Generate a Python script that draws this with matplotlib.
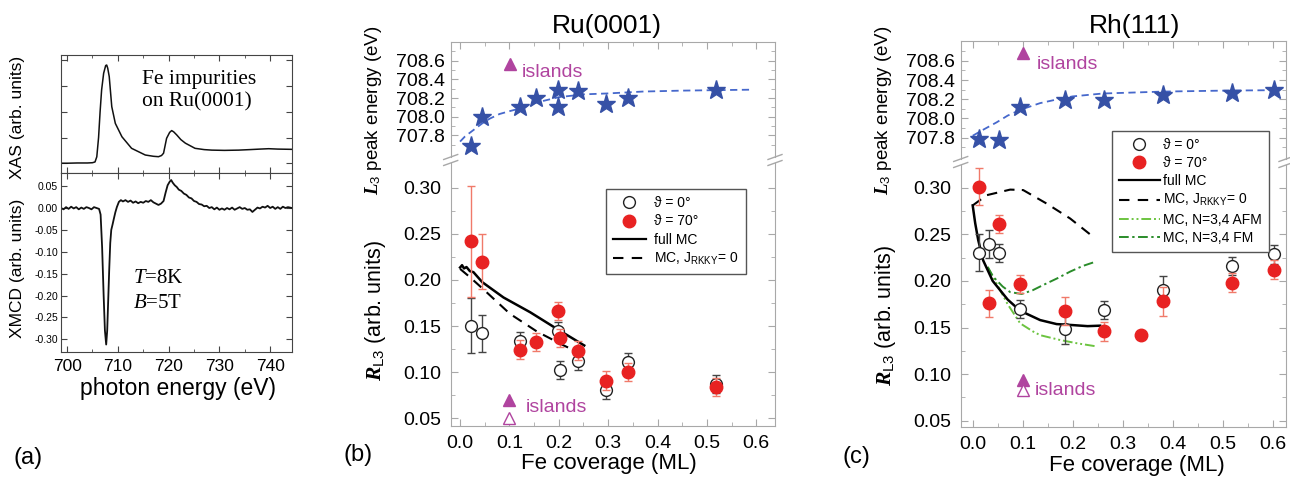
import matplotlib
matplotlib.use('Agg')
import matplotlib.pyplot as plt
from matplotlib.lines import Line2D
from matplotlib.ticker import FormatStrFormatter

# ---- panel (a): spectra ----
xas_e = [698.8, 700.0, 702.0, 704.0, 705.0, 705.5, 705.85, 706.2, 706.5, 706.8, 707.2, 707.6,
         707.8, 708.0, 708.3, 708.8, 709.5, 710.8, 712.7, 715.4, 717.0, 718.0, 718.6, 719.0,
         719.6, 720.2, 720.6, 721.0, 721.6, 722.4, 723.3, 725.2, 727.0, 728.5, 731.0, 733.8,
         736.0, 738.0, 739.7, 741.5, 744.3]
xas_v = [0.0, 0.0, 0.01, 0.01, 0.02, 0.05, 0.25, 1.0, 2.0, 2.85, 3.5, 3.8,
         3.82, 3.7, 3.37, 2.2, 1.55, 1.03, 0.58, 0.32, 0.27, 0.254, 0.3, 0.39,
         0.97, 1.2, 1.27, 1.22, 1.1, 0.92, 0.78, 0.58, 0.53, 0.51, 0.5, 0.51,
         0.53, 0.55, 0.565, 0.55, 0.54]

xmcd_e = [698.8, 699.3, 699.8, 700.3, 700.8, 701.3, 701.8, 702.3, 702.8, 703.3, 703.8, 704.3,
          704.8, 705.3, 705.8, 706.3, 706.6, 706.9, 707.2, 707.45, 707.7, 707.9, 708.1, 708.3,
          708.5, 708.7, 708.95, 709.2, 709.5, 709.8, 710.2, 710.6, 711.0, 711.5, 712.0, 712.5,
          713.0, 713.5, 714.0, 714.5, 715.0, 715.5, 716.0, 716.5, 717.0, 717.5, 718.0, 718.5,
          719.0, 719.4, 719.8, 720.2, 720.5, 720.8, 721.2, 721.6, 722.0, 722.5, 723.0, 723.5,
          724.0, 724.5, 725.0, 725.5, 726.0, 726.5, 727.0, 727.5, 728.0, 728.5, 729.0, 729.5,
          730.0, 730.5, 731.0, 731.5, 732.0, 732.5, 733.0, 733.5, 734.0, 734.5, 735.0, 735.5,
          736.0, 736.5, 737.0, 737.5, 738.0, 738.5, 739.0, 739.5, 740.0, 740.5, 741.0, 741.5,
          742.0, 742.5, 743.0, 743.5, 744.3]
xmcd_v = [0.000, -0.003, 0.002, -0.002, 0.003, -0.001, 0.002, -0.003, 0.001, -0.002, 0.002, 0.000,
          -0.003, 0.002, 0.000, -0.002, -0.015, -0.09, -0.20, -0.28, -0.312, -0.28, -0.21, -0.14,
          -0.08, -0.05, -0.038, -0.025, -0.01, 0.002, 0.014, 0.018, 0.015, 0.018, 0.014, 0.017,
          0.012, 0.015, 0.011, 0.014, 0.012, 0.016, 0.014, 0.018, 0.013, 0.010, 0.007, 0.010,
          0.016, 0.035, 0.052, 0.060, 0.064, 0.058, 0.052, 0.048, 0.042, 0.039, 0.033, 0.030,
          0.024, 0.022, 0.016, 0.014, 0.009, 0.008, 0.004, 0.005, 0.000, 0.002, -0.003, 0.001,
          -0.004, -0.001, -0.004, 0.000, -0.003, 0.001, -0.004, -0.001, 0.002, -0.002, 0.000, -0.004,
          -0.003, -0.009, -0.004, 0.001, -0.001, 0.003, 0.001, 0.005, 0.000, 0.003, -0.002, 0.002,
          -0.002, 0.003, 0.000, 0.002, 0.000]

# ---- panel (b): Ru(0001) ----
ru_e_cov = [0.022, 0.045, 0.122, 0.153, 0.199, 0.198, 0.238, 0.295, 0.340, 0.519]
ru_e = [707.69, 708.00, 708.10, 708.20, 708.29, 708.10, 708.28, 708.14, 708.20, 708.29]
ru_fit_x = [0.0, 0.01, 0.02, 0.03, 0.045, 0.06, 0.08, 0.1, 0.122, 0.153, 0.2, 0.25, 0.3, 0.37, 0.45, 0.59]
ru_fit_e = [707.735, 707.79, 707.83, 707.87, 707.93, 707.98, 708.03, 708.06, 708.09, 708.15,
            708.21, 708.24, 708.25, 708.27, 708.28, 708.29]

ru_cov0 = [0.022, 0.045, 0.122, 0.199, 0.203, 0.238, 0.295, 0.340, 0.519]
ru_r0 = [0.1506, 0.1423, 0.134, 0.1445, 0.1025, 0.112, 0.0805, 0.111, 0.0873]
ru_err0 = [0.030, 0.020, 0.010, 0.010, 0.010, 0.010, 0.010, 0.010, 0.010]
ru_cov70 = [0.022, 0.045, 0.122, 0.153, 0.199, 0.203, 0.238, 0.295, 0.340, 0.519]
ru_r70 = [0.242, 0.220, 0.1246, 0.1325, 0.1665, 0.137, 0.1235, 0.091, 0.100, 0.0837]
ru_err70 = [0.060, 0.030, 0.010, 0.010, 0.010, 0.010, 0.010, 0.010, 0.010, 0.010]

ru_mc_x = [0.0, 0.004, 0.008, 0.013, 0.02, 0.027, 0.045, 0.088, 0.142, 0.196, 0.2515]
ru_mc_r = [0.2135, 0.2160, 0.2125, 0.2140, 0.2095, 0.2085, 0.1976, 0.181, 0.165, 0.147, 0.129]
ru_j0_x = [0.0, 0.02, 0.047, 0.101, 0.156, 0.21, 0.23]
ru_j0_r = [0.212, 0.203, 0.190, 0.1633, 0.144, 0.129, 0.124]

# ---- panel (c): Rh(111) ----
rh_e_cov = [0.013, 0.052, 0.095, 0.185, 0.262, 0.380, 0.519, 0.602]
rh_e = [707.79, 707.78, 708.12, 708.19, 708.19, 708.245, 708.27, 708.30]
rh_fit_x = [0.0, 0.02, 0.048, 0.07, 0.095, 0.135, 0.17, 0.2, 0.26, 0.38, 0.5, 0.61]
rh_fit_e = [707.82, 707.88, 707.96, 708.03, 708.09, 708.16, 708.20, 708.23, 708.26, 708.28, 708.29, 708.295]

rh_cov0 = [0.013, 0.033, 0.052, 0.095, 0.185, 0.262, 0.380, 0.519, 0.602]
rh_r0 = [0.2305, 0.240, 0.230, 0.1697, 0.148, 0.1687, 0.190, 0.2159, 0.2284]
rh_err0 = [0.020, 0.015, 0.010, 0.010, 0.016, 0.010, 0.015, 0.010, 0.010]
rh_cov70 = [0.013, 0.033, 0.052, 0.095, 0.185, 0.262, 0.336, 0.380, 0.519, 0.602]
rh_r70 = [0.301, 0.1758, 0.261, 0.1966, 0.1676, 0.146, 0.1415, 0.178, 0.198, 0.212]
rh_err70 = [0.020, 0.015, 0.010, 0.010, 0.015, 0.010, 0.0, 0.016, 0.010, 0.010]

rh_mc_x = [0.0, 0.005, 0.011, 0.021, 0.04, 0.07, 0.095, 0.135, 0.168, 0.201, 0.23, 0.255]
rh_mc_r = [0.281, 0.262, 0.244, 0.222, 0.200, 0.180, 0.168, 0.158, 0.1537, 0.1526, 0.1515, 0.152]
rh_j0_x = [0.0, 0.028, 0.075, 0.101, 0.148, 0.195, 0.245]
rh_j0_r = [0.281, 0.292, 0.298, 0.2975, 0.283, 0.267, 0.2457]
rh_afm_x = [0.03, 0.05, 0.07, 0.095, 0.12, 0.135, 0.175, 0.21, 0.245]
rh_afm_r = [0.215, 0.195, 0.175, 0.1545, 0.146, 0.1418, 0.1366, 0.133, 0.130]
rh_fm_x = [0.03, 0.041, 0.06, 0.075, 0.098, 0.12, 0.141, 0.17, 0.195, 0.22, 0.245]
rh_fm_r = [0.215, 0.2045, 0.194, 0.188, 0.186, 0.190, 0.1956, 0.203, 0.210, 0.216, 0.2205]

W, H = 1290, 479
plt.rcParams['font.family'] = ['Liberation Sans', 'DejaVu Sans']
plt.rcParams['mathtext.fontset'] = 'custom'
plt.rcParams['mathtext.rm'] = 'Liberation Sans'
plt.rcParams['mathtext.it'] = 'Liberation Serif:italic'
plt.rcParams['mathtext.bf'] = 'Liberation Serif:italic:bold'

fig = plt.figure(figsize=(W / 100, H / 100), dpi=100)


def box(l, t, r, b):
    return [l / W, 1 - b / H, (r - l) / W, (b - t) / H]


def ftext(x, y, s, **kw):
    fig.text(x / W, 1 - y / H, s, **kw)


GRAY = '#a8a8a8'
BLUE = '#3651a6'
RED = '#e82222'
ERED = '#f07a6a'
MAG = '#b0449f'

# ================= (a) =================
ax1 = fig.add_axes(box(61, 55, 292, 173))
ax2 = fig.add_axes(box(61, 173, 292, 352))
ax1.plot(xas_e, xas_v, color='#111', lw=1.1)
ax2.plot(xmcd_e, xmcd_v, color='#111', lw=1.3)
for ax in (ax1, ax2):
    ax.set_xlim(698.8, 744.3)
    ax.set_xticks([700, 710, 720, 730, 740])
    ax.set_xticks([705, 715, 725, 735], minor=True)
    ax.tick_params(which='both', direction='in', top=True, right=True, color='#444')
    ax.tick_params(which='major', length=4)
    ax.tick_params(which='minor', length=2)
    for s in ax.spines.values():
        s.set_color('#444')
ax1.set_ylim(-0.38, 4.21)
ax1.set_yticks([0, 1, 2, 3, 4])
ax1.tick_params(labelleft=False, labelbottom=False)
ax2.set_ylim(-0.329, 0.08)
ax2.set_yticks([-0.30, -0.25, -0.20, -0.15, -0.10, -0.05, 0.00, 0.05])
ax2.yaxis.set_major_formatter(FormatStrFormatter('%.2f'))
ax2.tick_params(axis='y', labelsize=7.5, pad=2)
ax2.tick_params(axis='x', labelsize=12.5, pad=5)
ax1.text(0.35, 0.87, 'Fe impurities\non Ru(0001)', transform=ax1.transAxes,
         family='Liberation Serif', fontsize=15.5, va='top', linespacing=1.2)
ax2.text(0.31, 0.41, r'$\mathit{T}$=8K', transform=ax2.transAxes,
         family='Liberation Serif', fontsize=15, va='center')
ax2.text(0.31, 0.27, r'$\mathit{B}$=5T', transform=ax2.transAxes,
         family='Liberation Serif', fontsize=15, va='center')
ftext(18, 117, 'XAS (arb. units)', rotation=90, ha='center', va='center', fontsize=12.5)
ftext(18, 268, 'XMCD (arb. units)', rotation=90, ha='center', va='center', fontsize=12.5)
ftext(178, 388, 'photon energy (eV)', ha='center', va='center', fontsize=16.5)
ftext(28, 458, '(a)', ha='center', va='center', fontsize=17)


# ================= (b) and (c) =================
def panel(left, right, t_top, t_bot, b_top, b_bot, e_lim, r_lim, xlim):
    at = fig.add_axes(box(left, t_top, right, t_bot))
    ab = fig.add_axes(box(left, b_top, right, b_bot))
    for ax in (at, ab):
        ax.set_xlim(*xlim)
        ax.set_xticks([0.0, 0.1, 0.2, 0.3, 0.4, 0.5, 0.6])
        ax.set_xticks([0.05, 0.15, 0.25, 0.35, 0.45, 0.55], minor=True)
        ax.xaxis.set_major_formatter(FormatStrFormatter('%.1f'))
        for s in ax.spines.values():
            s.set_color(GRAY)
        ax.tick_params(which='both', direction='in', color=GRAY, left=True, right=True,
                       labelsize=14)
        ax.tick_params(which='major', length=5)
        ax.tick_params(which='minor', length=3)
    at.spines['bottom'].set_visible(False)
    ab.spines['top'].set_visible(False)
    at.tick_params(which='both', top=True, bottom=False, labelbottom=False)
    ab.tick_params(which='both', top=False, bottom=True)
    ab.tick_params(axis='x', pad=7)
    at.tick_params(axis='y', pad=4)
    ab.tick_params(axis='y', pad=7)
    at.set_ylim(*e_lim)
    at.set_yticks([707.8, 708.0, 708.2, 708.4, 708.6])
    at.set_yticks([707.7, 707.9, 708.1, 708.3, 708.5, 708.7], minor=True)
    at.yaxis.set_major_formatter(FormatStrFormatter('%.1f'))
    ab.set_ylim(*r_lim)
    ab.set_yticks([0.05, 0.10, 0.15, 0.20, 0.25, 0.30])
    ab.set_yticks([0.075, 0.125, 0.175, 0.225, 0.275], minor=True)
    ab.yaxis.set_major_formatter(FormatStrFormatter('%.2f'))
    for xx in (left, right):
        for yy in (t_bot, b_top):
            fig.add_artist(Line2D([(xx - 7) / W, (xx + 7) / W],
                                  [1 - (yy + 2.5) / H, 1 - (yy - 2.5) / H],
                                  color=GRAY, lw=1))
    return at, ab


def data_points(ab, c0, r0, e0, c70, r70, e70):
    ab.errorbar(c0, r0, yerr=e0, fmt='o', ms=8.5, mfc='white', mec='#222', mew=1,
                ecolor='#444', elinewidth=1, capsize=3, capthick=1, zorder=4)
    ab.errorbar(c70, r70, yerr=e70, fmt='o', ms=9, mfc=RED, mec=RED,
                ecolor=ERED, elinewidth=1, capsize=3, capthick=1, zorder=5)


h_open = Line2D([], [], ls='none', marker='o', ms=8.5, mfc='white', mec='#222')
h_red = Line2D([], [], ls='none', marker='o', ms=9, mfc=RED, mec=RED)
h_full = Line2D([], [], color='k', lw=1.6)
h_j0 = Line2D([], [], color='k', lw=1.5, dashes=(5, 4))
lab0 = '\u03d1 = 0\u00b0'
lab70 = '\u03d1 = 70\u00b0'
labj0 = r'MC, J$_{\mathrm{RKKY}}$= 0'

# (b)
bt, bb = panel(450.7, 775, 42, 157, 163, 425.7, (707.57, 708.80), (0.042, 0.3268), (-0.019, 0.638))
bt.plot(ru_fit_x, ru_fit_e, color='#4668cc', lw=1.3, dashes=(4, 2.5))
bt.plot(ru_e_cov, ru_e, ls='none', marker='*', ms=14, color=BLUE, zorder=3)
bt.plot([0.101], [708.56], ls='none', marker='^', ms=8, color=MAG)
bt.text(0.125, 708.47, 'islands', color=MAG, fontsize=14, va='center')
bb.plot(ru_mc_x, ru_mc_r, color='k', lw=1.8)
bb.plot(ru_j0_x, ru_j0_r, color='k', lw=1.5, dashes=(5, 3.5))
data_points(bb, ru_cov0, ru_r0, ru_err0, ru_cov70, ru_r70, ru_err70)
bb.plot([0.100], [0.0704], ls='none', marker='^', ms=8, color=MAG)
bb.plot([0.100], [0.0505], ls='none', marker='^', ms=8, mfc='white', mec=MAG)
bb.text(0.134, 0.0613, 'islands', color=MAG, fontsize=14, va='center')
leg = bb.legend([h_open, h_red, h_full, h_j0], [lab0, lab70, 'full MC', labj0],
                loc='upper right', bbox_to_anchor=(0.931, 0.9265), fontsize=10,
                fancybox=False, edgecolor='#555', framealpha=1, handlelength=2.4,
                handletextpad=0.6, labelspacing=0.3, borderpad=0.5)
leg.get_frame().set_linewidth(1)
ftext(606.7, 26, 'Ru(0001)', ha='center', va='center', fontsize=19)
ftext(374, 110, r'$\mathbf{L}_{\mathrm{3}}$ peak energy (eV)', rotation=90,
      ha='center', va='center', fontsize=13.5)
ftext(375, 310, r'$\mathbf{R}_{\mathrm{L3}}$ (arb. units)', rotation=90,
      ha='center', va='center', fontsize=15.5)
ftext(609, 463, 'Fe coverage (ML)', ha='center', va='center', fontsize=16)
ftext(358, 455, '(b)', ha='center', va='center', fontsize=17)

# (c)
ct, cb = panel(960.7, 1286, 40.7, 159, 165, 426.7, (707.578, 708.81), (0.0436, 0.3244), (-0.024, 0.627))
ct.plot(rh_fit_x, rh_fit_e, color='#4668cc', lw=1.3, dashes=(4, 2.5))
ct.plot(rh_e_cov, rh_e, ls='none', marker='*', ms=14, color=BLUE, zorder=3)
ct.plot([0.1], [708.68], ls='none', marker='^', ms=8, color=MAG)
ct.text(0.128, 708.56, 'islands', color=MAG, fontsize=14, va='center')
cb.plot(rh_j0_x, rh_j0_r, color='k', lw=1.5, dashes=(5, 3.5))
cb.plot(rh_afm_x, rh_afm_r, color='#6cc440', lw=1.4, dashes=(5, 1.5, 1, 1.5, 1, 1.5))
cb.plot(rh_fm_x, rh_fm_r, color='#2a8c2a', lw=1.4, dashes=(5, 1.8, 1.2, 1.8))
cb.plot(rh_mc_x, rh_mc_r, color='k', lw=1.8)
data_points(cb, rh_cov0, rh_r0, rh_err0, rh_cov70, rh_r70, rh_err70)
cb.plot([0.1], [0.0936], ls='none', marker='^', ms=8, color=MAG)
cb.plot([0.1], [0.0828], ls='none', marker='^', ms=8, mfc='white', mec=MAG)
cb.text(0.125, 0.082, 'islands', color=MAG, fontsize=14, va='center')
h_afm = Line2D([], [], color='#6cc440', lw=1.4, dashes=(5, 1.5, 1, 1.5, 1, 1.5))
h_fm = Line2D([], [], color='#2a8c2a', lw=1.4, dashes=(5, 1.8, 1.2, 1.8))
leg = cb.legend([h_open, h_red, h_full, h_j0, h_afm, h_fm],
                [lab0, lab70, 'full MC', labj0, 'MC, N=3,4 AFM', 'MC, N=3,4 FM'],
                loc='upper right', bbox_to_anchor=(0.9683, 1.1567), fontsize=10,
                fancybox=False, edgecolor='#555', framealpha=1, handlelength=3.0,
                handletextpad=0.2, labelspacing=0.3, borderpad=0.5)
leg.get_frame().set_linewidth(1)
ftext(1135, 26, 'Rh(111)', ha='center', va='center', fontsize=19)
ftext(884, 110, r'$\mathbf{L}_{\mathrm{3}}$ peak energy (eV)', rotation=90,
      ha='center', va='center', fontsize=13.5)
ftext(886, 315, r'$\mathbf{R}_{\mathrm{L3}}$ (arb. units)', rotation=90,
      ha='center', va='center', fontsize=15.5)
ftext(1137, 466, 'Fe coverage (ML)', ha='center', va='center', fontsize=16)
ftext(856, 457, '(c)', ha='center', va='center', fontsize=17)

fig.savefig('out.png', dpi=100)
